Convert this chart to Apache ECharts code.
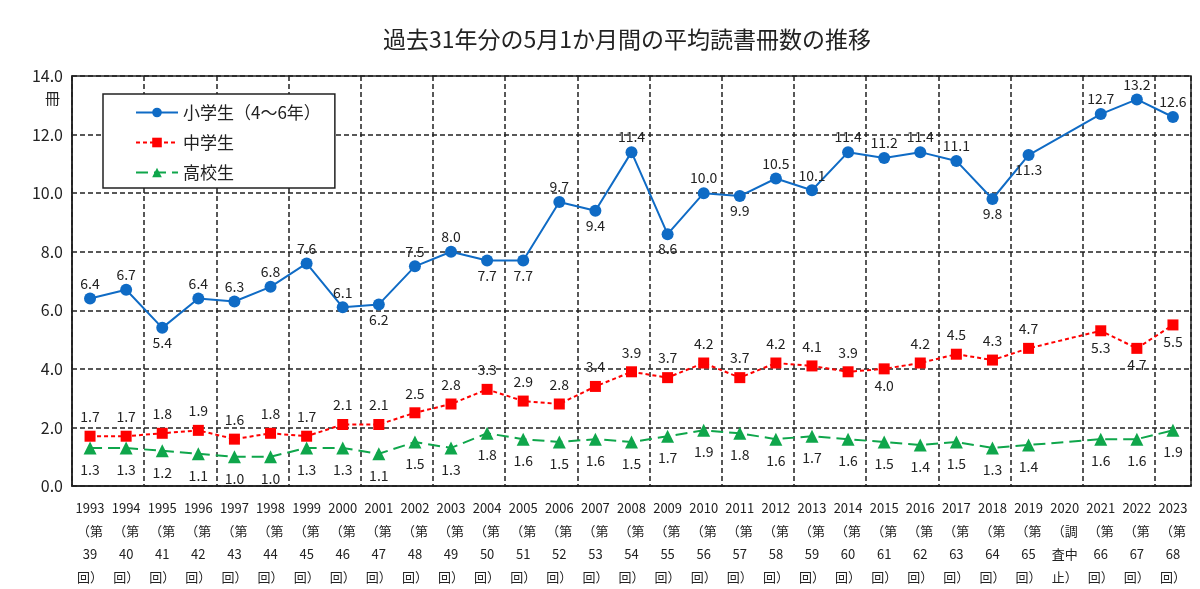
<html><head>
<meta charset="UTF-8">
<title>平均読書冊数の推移</title>
<style>
  body { margin: 0; background: #fff; }
  #chart { width: 1200px; height: 589px; }
</style>
</head>
<body>
<div id="chart"></div>
<script src="https://cdn.jsdelivr.net/npm/echarts@6/dist/echarts.min.js"></script>
<script>
// 年度と調査回
const years = ['1993','1994','1995','1996','1997','1998','1999','2000','2001','2002','2003','2004','2005','2006','2007','2008','2009','2010','2011','2012','2013','2014','2015','2016','2017','2018','2019','2020','2021','2022','2023'];
const rounds = ['39','40','41','42','43','44','45','46','47','48','49','50','51','52','53','54','55','56','57','58','59','60','61','62','63','64','65',null,'66','67','68'];

// 平均読書冊数（2020年は調査中止）
const elementary = [6.4,6.7,5.4,6.4,6.3,6.8,7.6,6.1,6.2,7.5,8.0,7.7,7.7,9.7,9.4,11.4,8.6,10.0,9.9,10.5,10.1,11.4,11.2,11.4,11.1,9.8,11.3,null,12.7,13.2,12.6];
const juniorHigh = [1.7,1.7,1.8,1.9,1.6,1.8,1.7,2.1,2.1,2.5,2.8,3.3,2.9,2.8,3.4,3.9,3.7,4.2,3.7,4.2,4.1,3.9,4.0,4.2,4.5,4.3,4.7,null,5.3,4.7,5.5];
const highSchool = [1.3,1.3,1.2,1.1,1.0,1.0,1.3,1.3,1.1,1.5,1.3,1.8,1.6,1.5,1.6,1.5,1.7,1.9,1.8,1.6,1.7,1.6,1.5,1.4,1.5,1.3,1.4,null,1.6,1.6,1.9];

// 数値ラベルを下に置く年
const elemBelow = ['1995','2001','2004','2005','2007','2009','2011','2018','2019'];
const juniorBelow = ['2015','2021','2022','2023'];

const font = '"Noto Sans CJK JP", sans-serif';
const ink = '#222';

function withLabels(values, below, dTop, dBottom) {
  return values.map((v, i) => {
    if (v === null) return null;
    const s = below === 'all' || below.includes(years[i]) ? 'bottom' : 'top';
    return { value: v, label: { position: s, distance: s === 'top' ? dTop : dBottom } };
  });
}

const chart = echarts.init(document.getElementById('chart'));

chart.setOption({
  animation: false,
  textStyle: { fontFamily: font },
  title: {
    text: '過去31年分の5月1か月間の平均読書冊数の推移',
    left: 378, top: 23,
    textStyle: { fontSize: 23, fontWeight: 'normal', color: ink, fontFamily: font }
  },
  legend: {
    orient: 'vertical',
    left: 103, top: 94,
    padding: [10, 14, 7, 32],
    itemGap: 13,
    itemWidth: 42, itemHeight: 12,
    borderColor: ink, borderWidth: 1.5,
    backgroundColor: '#fff',
    textStyle: { fontSize: 17, color: ink, fontFamily: font },
    data: ['小学生（4～6年）', '中学生', '高校生']
  },
  grid: {
    left: 72, right: 9, top: 76, bottom: 93,
    show: true, borderColor: ink, borderWidth: 1.5
  },
  xAxis: {
    type: 'category',
    data: years,
    boundaryGap: true,
    axisLine: { lineStyle: { color: ink, width: 1.5 } },
    axisTick: { interval: 1, length: 5, lineStyle: { color: ink } },
    splitLine: { show: true, interval: 1, lineStyle: { color: ink, type: [5, 3], width: 1.5 } },
    axisLabel: {
      interval: 0, margin: 11, color: ink, fontSize: 13, lineHeight: 23,
      formatter: (v, i) => rounds[i] === null
        ? v + '\n（調\n査中\n止）'
        : v + '\n（第\n' + rounds[i] + '\n回）'
    }
  },
  yAxis: {
    type: 'value',
    min: 0, max: 14, interval: 2,
    axisLine: { show: true, lineStyle: { color: ink, width: 1.5 } },
    axisTick: { show: false },
    splitLine: { lineStyle: { color: ink, type: [5, 3], width: 1.5 } },
    axisLabel: { color: ink, fontSize: 16, margin: 9, formatter: v => v.toFixed(1) }
  },
  graphic: [{
    type: 'text', left: 45, top: 91,
    style: { text: '冊', fontSize: 15, fill: ink, fontFamily: font }
  }],
  series: [
    {
      name: '小学生（4～6年）', type: 'line', connectNulls: true,
      data: withLabels(elementary, elemBelow, 2, 2),
      symbol: 'circle', symbolSize: 12,
      itemStyle: { color: '#0F6BC5' },
      lineStyle: { color: '#0F6BC5', width: 2 },
      label: { show: true, fontSize: 14, color: ink, formatter: p => p.value.toFixed(1) },
      z: 4
    },
    {
      name: '中学生', type: 'line', connectNulls: true,
      data: withLabels(juniorHigh, juniorBelow, 7, 4),
      symbol: 'rect', symbolSize: 11,
      itemStyle: { color: '#FF0000' },
      lineStyle: { color: '#FF0000', width: 2, type: [4, 3] },
      label: { show: true, fontSize: 14, color: ink, formatter: p => p.value.toFixed(1) },
      z: 3
    },
    {
      name: '高校生', type: 'line', connectNulls: true,
      data: withLabels(highSchool, 'all', 7, 8),
      symbol: 'triangle', symbolSize: 13,
      itemStyle: { color: '#0FA64B' },
      lineStyle: { color: '#0FA64B', width: 2, type: [12, 6] },
      label: { show: true, fontSize: 14, color: ink, formatter: p => p.value.toFixed(1) },
      z: 2
    }
  ]
});
</script>
</body></html>
